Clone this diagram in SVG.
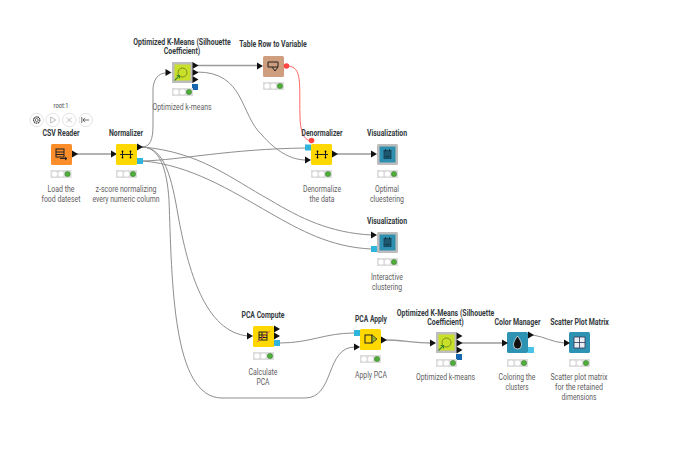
<svg xmlns="http://www.w3.org/2000/svg" width="690" height="451" viewBox="0 0 690 451">
<style>
text{font-family:Roboto,"Liberation Sans",sans-serif;text-anchor:middle}
.t{font-size:9.4px;font-weight:700;fill:#343a40}
.t2{font-size:8.4px;font-weight:700;fill:#343a40}
.l{font-size:9.2px;fill:#62605f}
.c{fill:none;stroke:#8e8e8e;stroke-width:1}
.cd{fill:none;stroke:#9a9a9a;stroke-width:1.3}
.r{fill:none;stroke:#f66;stroke-width:1}
.p{fill:#111}
.b{fill:#2fb5dc}
.bd{fill:#1766b0}
.st{fill:#dcdcdc}
.w{fill:#fff}
.g{fill:#4fae3a;stroke:#2f7a22;stroke-width:.5}
.i{fill:none;stroke:#222;stroke-width:1}
.tb{fill:#fff;stroke:#e4e4e4;stroke-width:1}
.ti{fill:none;stroke:#444;stroke-width:.8}
.tg{fill:none;stroke:#aaa;stroke-width:.8}
</style>
<defs>
<g id="s"><rect x="-10.500" y="0" width="21" height="8" class="st"/><circle cx="-6.500" cy="4" r="2.600" class="w"/><circle cx="0" cy="4" r="2.600" class="w"/><circle cx="6.500" cy="4" r="2.600" class="g"/></g>
<path id="a" d="M0-3.500L6 0L0 3.500Z" class="p"/>
<g id="ic-norm"><path d="M-6.500 0H6.500" class="i"/><path d="M-4 -3V3M4 -3V3" class="i"/><circle cx="-4" cy="-3" r=".9"/><circle cx="4" cy="-3" r=".9"/><circle cx="-4" cy="3" r=".9"/><circle cx="4" cy="3" r=".9"/></g>
<g id="ic-km"><circle cx="0" cy="0" r="4.500" fill="none" stroke="#667a10" stroke-width=".8"/><path d="M-8 8L-3 3M-6 3H-3V6" fill="none" stroke="#3f8a2a" stroke-width="1.100"/></g>
<g id="ic-viz"><rect x="-3.500" y="-4" width="7" height="8" fill="#1c5870" stroke="#123e50" stroke-width=".8"/><path d="M-2 -5.500V-3M2 -5.500V-3M-2 2H2" stroke="#0f2f3d" stroke-width=".8" fill="none"/></g>
</defs>
<rect width="690" height="451" fill="#fff"/>
<g id="connectors">
<path class="cd" d="M73 154H111"/>
<path class="c" d="M142 147C150 147 153 140 153 125V90C153 80 158 73 166 73"/>
<path class="cd" d="M197 65.500H258"/>
<path class="c" d="M197 72C245 72 240 115 262 135C275 150 290 160 306 160"/>
<path class="r" d="M287 66C303 66 299 85 300 115C300 130 303 140 311 141"/>
<path class="c" d="M143 161C180 160 230 149 305 148"/>
<path class="cd" d="M337 154H372"/>
<path class="c" d="M142 147C200 152 230 178 270 200C300 218 330 233 372 235"/>
<path class="c" d="M143 161C190 165 230 190 270 213C300 230 330 247 371 249"/>
<path class="c" d="M142 147C165 147 172 180 178 215C188 270 205 332 248 336"/>
<path class="c" d="M142 147C160 147 167 170 169 200C172 280 172 398 222 398H305C335 398 325 347 355 347"/>
<path class="c" d="M280 343C310 343 325 333 354 333"/>
<path class="cd" d="M386 340C400 340 415 343 431 343"/>
<path class="cd" d="M461 343H503"/>
<path class="c" d="M533 335C545 337 552 342 564 343"/>
</g>
<g id="toolbar">
<text x="61" y="108" class="l" style="font-size:8px;fill:#444" textLength="15" lengthAdjust="spacingAndGlyphs">root:1</text>
<circle cx="36.700" cy="120" r="6.700" class="tb"/><circle cx="36.700" cy="120" r="3.200" fill="none" stroke="#333" stroke-width="1.100" stroke-dasharray="1.600 .6"/><circle cx="36.700" cy="120" r="1.500" class="ti"/>
<circle cx="52.700" cy="120" r="6.700" class="tb"/><path d="M50.700 117L55.700 120L50.700 123Z" class="tg"/>
<circle cx="69.300" cy="120" r="6.700" class="tb"/><path d="M66.800 117.500L71.800 122.500M71.800 117.500L66.800 122.500" class="tg"/>
<circle cx="85.700" cy="120" r="6.700" class="tb"/><path d="M83 120H89M85 117.800L83 120L85 122.200M81.800 117V123" class="ti"/>
</g>
<g id="n1"><text x="61" y="136" class="t" textLength="37" lengthAdjust="spacingAndGlyphs">CSV Reader</text><rect x="51" y="144" width="21" height="21" rx="1.500" fill="#fb8d2b"/><rect x="56" y="149" width="8" height="8" class="i"/><path d="M56 152H64M56 154.500H64M60 158.500H67M65 157L67 158.500L65 160" class="i" stroke-width=".8"/><use href="#a" x="72" y="154"/><use href="#a" x="111" y="154"/><use href="#s" x="61" y="170"/><text x="61" y="192" class="l" textLength="27" lengthAdjust="spacingAndGlyphs">Load the</text><text x="61" y="202" class="l" textLength="39" lengthAdjust="spacingAndGlyphs">food dateset</text></g>
<g id="n2"><text x="126" y="136" class="t" textLength="34" lengthAdjust="spacingAndGlyphs">Normalizer</text><rect x="116" y="144" width="21" height="21" rx="1.500" fill="#ffd800"/><use href="#ic-norm" x="126.500" y="154.500"/><use href="#a" x="137" y="147"/><rect x="137" y="158" width="6" height="6" class="b"/><use href="#s" x="126.500" y="170"/><text x="126" y="192" class="l" textLength="61" lengthAdjust="spacingAndGlyphs">z-score normalizing</text><text x="126" y="202" class="l" textLength="67" lengthAdjust="spacingAndGlyphs">every numeric column</text></g>
<g id="n3"><text transform="translate(182 44.700) scale(.83 1)" class="t2"><tspan x="0" y="0">Optimized K-Means (Silhouette</tspan><tspan x="0" y="9.800">Coefficient)</tspan></text><rect x="172" y="62" width="21" height="21" fill="#bdbdbd"/><rect x="174.500" y="64.500" width="16" height="16" fill="#c9e02a"/><use href="#ic-km" x="182.500" y="72.500"/><use href="#a" x="165.500" y="72.500"/><use href="#a" x="192.500" y="65.500"/><use href="#a" x="192.500" y="72.500"/><use href="#a" x="192.500" y="79.500"/><rect x="192" y="84" width="6" height="6" class="bd"/><use href="#s" x="182.500" y="88"/><text x="182" y="110" class="l" textLength="59" lengthAdjust="spacingAndGlyphs">Optimized k-means</text></g>
<g id="n4"><text transform="translate(273 47) scale(.74 1)" class="t">Table Row to Variable</text><rect x="263" y="56" width="21" height="21" rx="1.500" fill="#cf9e7f"/><path d="M268 62H278V67H268ZM272 67L275 71L278 67" class="i"/><use href="#a" x="257" y="66"/><circle cx="286.500" cy="66" r="2.800" fill="#f44"/><use href="#s" x="273.500" y="82"/></g>
<g id="n5"><text x="322" y="136" class="t" textLength="41" lengthAdjust="spacingAndGlyphs">Denormalizer</text><rect x="311" y="144" width="21" height="21" rx="1.500" fill="#ffd800"/><use href="#ic-norm" x="321.500" y="154.500"/><circle cx="311.500" cy="140.500" r="2.800" fill="#f44"/><rect x="305" y="144.500" width="6" height="6" class="b"/><use href="#a" x="305" y="160"/><use href="#a" x="332" y="154"/><use href="#s" x="321.500" y="170"/><text x="322" y="192" class="l" textLength="38" lengthAdjust="spacingAndGlyphs">Denormalize</text><text x="322" y="202" class="l" textLength="25" lengthAdjust="spacingAndGlyphs">the data</text></g>
<g id="n6"><text x="387" y="136" class="t" textLength="40" lengthAdjust="spacingAndGlyphs">Visualization</text><rect x="377" y="144" width="21" height="21" rx="1.500" fill="#bdbdbd"/><rect x="379.500" y="146.500" width="16" height="16" fill="#2e8fb0"/><use href="#ic-viz" x="387.500" y="154.500"/><use href="#a" x="371" y="154"/><use href="#s" x="387.500" y="170"/><text x="387" y="192" class="l" textLength="24" lengthAdjust="spacingAndGlyphs">Optimal</text><text x="387" y="202" class="l" textLength="34" lengthAdjust="spacingAndGlyphs">cluestering</text></g>
<g id="n7"><text x="387" y="224" class="t" textLength="40" lengthAdjust="spacingAndGlyphs">Visualization</text><rect x="377" y="232" width="21" height="21" rx="1.500" fill="#bdbdbd"/><rect x="379.500" y="234.500" width="16" height="16" fill="#2e8fb0"/><use href="#ic-viz" x="387.500" y="242.500"/><use href="#a" x="371" y="235"/><rect x="371" y="246" width="6" height="6" class="b"/><use href="#s" x="387.500" y="258"/><text x="387" y="280" class="l" textLength="32" lengthAdjust="spacingAndGlyphs">Interactive</text><text x="387" y="290" class="l" textLength="30" lengthAdjust="spacingAndGlyphs">clustering</text></g>
<g id="n8"><text x="263" y="318" class="t" textLength="43" lengthAdjust="spacingAndGlyphs">PCA Compute</text><rect x="253" y="326" width="21" height="21" rx="1.500" fill="#ffd800"/><rect x="259" y="332" width="8" height="8" class="i"/><path d="M259 335H267M259 337.500H267M262 332V340" class="i" stroke-width=".7"/><path d="M257 342L270 331" stroke="#d55" fill="none" stroke-width=".9"/><use href="#a" x="247" y="336"/><use href="#a" x="274" y="329"/><use href="#a" x="274" y="336"/><rect x="274" y="340" width="6" height="6" class="b"/><use href="#s" x="263.500" y="352"/><text x="263" y="375" class="l" textLength="29" lengthAdjust="spacingAndGlyphs">Calculate</text><text x="263" y="385" class="l" textLength="13" lengthAdjust="spacingAndGlyphs">PCA</text></g>
<g id="n9"><text x="371" y="322" class="t" textLength="32" lengthAdjust="spacingAndGlyphs">PCA Apply</text><rect x="360" y="329" width="21" height="21" rx="1.500" fill="#ffd800"/><rect x="365" y="335" width="7" height="8" class="i"/><path d="M372 335L377 339L372 343Z" fill="#9ab52a" stroke="#222" stroke-width=".7"/><rect x="354" y="330" width="6" height="6" class="b"/><use href="#a" x="354" y="347"/><use href="#a" x="381" y="340"/><use href="#s" x="370.500" y="355"/><text x="371" y="378" class="l" textLength="32" lengthAdjust="spacingAndGlyphs">Apply PCA</text></g>
<g id="n10"><text transform="translate(445.500 315.700) scale(.83 1)" class="t2"><tspan x="0" y="0">Optimized K-Means (Silhouette</tspan><tspan x="0" y="9.800">Coefficient)</tspan></text><rect x="436" y="332" width="21" height="21" fill="#bdbdbd"/><rect x="438.500" y="334.500" width="16" height="16" fill="#c9e02a"/><use href="#ic-km" x="446.500" y="342.500"/><use href="#a" x="430" y="343"/><use href="#a" x="456.500" y="336"/><use href="#a" x="456.500" y="343"/><use href="#a" x="456.500" y="350"/><rect x="456" y="354" width="6" height="6" class="bd"/><use href="#s" x="446.500" y="359"/><text x="445.500" y="380" class="l" textLength="59" lengthAdjust="spacingAndGlyphs">Optimized k-means</text></g>
<g id="n11"><text transform="translate(517.500 324.500) scale(.74 1)" class="t">Color Manager</text><rect x="507" y="332" width="21" height="21" rx="1.500" fill="#2e93b3"/><path d="M517.500 336C514 341 513.500 343 513.500 345A4 4 0 0 0 521.500 345C521.500 343 521 341 517.500 336Z" fill="#111" stroke="#fff" stroke-width=".7"/><use href="#a" x="528" y="335"/><use href="#a" x="502" y="343"/><rect x="528" y="347" width="6" height="6" fill="#4bc3e8"/><use href="#s" x="517.500" y="359"/><text x="517" y="380" class="l" textLength="37" lengthAdjust="spacingAndGlyphs">Coloring the</text><text x="517" y="390" class="l" textLength="23" lengthAdjust="spacingAndGlyphs">clusters</text></g>
<g id="n12"><text transform="translate(579.500 324.500) scale(.74 1)" class="t">Scatter Plot Matrix</text><rect x="569" y="332" width="21" height="21" rx="1.500" fill="#2e93b3"/><path d="M574 337H585V348H574ZM574 342.500H585M579.500 337V348" fill="#e8eef0" stroke="#335" stroke-width=".8"/><use href="#a" x="564" y="343"/><use href="#s" x="579.500" y="359"/><text x="579" y="380" class="l" textLength="57" lengthAdjust="spacingAndGlyphs">Scatter plot matrix</text><text x="579" y="390" class="l" textLength="48" lengthAdjust="spacingAndGlyphs">for the retained</text><text x="579" y="400" class="l" textLength="35" lengthAdjust="spacingAndGlyphs">dimensions</text></g>
</svg>
